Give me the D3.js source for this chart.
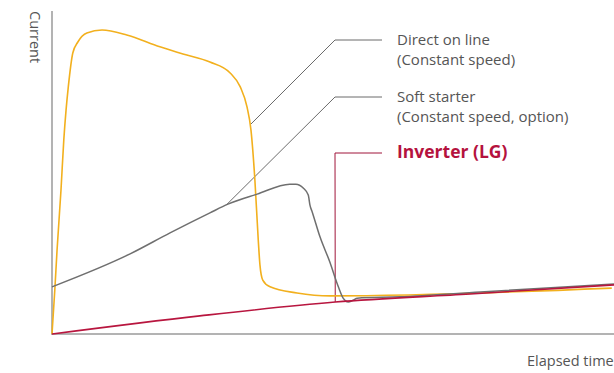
<!DOCTYPE html>
<html>
<head>
<meta charset="utf-8">
<script src="https://cdn.jsdelivr.net/npm/d3@7"></script>
<style>
  body { margin: 0; background: #fff; }
  svg text { font-family: "Open Sans", sans-serif; fill: #555; }
</style>
</head>
<body>
<svg id="chart" width="614" height="373"></svg>
<script>
// Curves (x = elapsed time %, y = current %)
const directX   = [0, 0.5, 0.9, 1.6, 2.1, 2.5, 2.9, 3.7, 4.6, 6.2, 8.9, 13.3, 19.2, 23.3, 28.1, 31.7, 33.5, 34.7, 35.4, 36.1, 36.7, 37.0, 37.5, 38.8, 43.6, 49.5, 99.6];
const directY   = [0, 13.6, 26.0, 44.6, 60.1, 69.3, 76.5, 87.0, 90.4, 93.2, 94.1, 92.6, 88.9, 86.7, 84.2, 80.8, 76.5, 70.3, 63.2, 47.7, 29.1, 21.4, 16.7, 14.6, 12.7, 11.8, 14.2];
const softX     = [0, 13.9, 21.0, 28.1, 31.3, 36.5, 42.3, 43.4, 44.7, 45.6, 45.9, 46.3, 47.7, 49.5, 50.7, 51.8, 52.7, 53.6, 54.3, 61.9, 76.2, 100];
const softY     = [14.6, 24.8, 31.3, 37.5, 40.2, 43.3, 46.4, 46.4, 45.2, 43.0, 39.9, 37.8, 30.0, 22.0, 15.8, 11.1, 9.9, 10.5, 11.1, 11.5, 13.0, 15.5];
const inverterX = [0, 26.3, 50.4, 74.4, 100];
const inverterY = [0, 5.6, 9.9, 12.4, 15.2];

// Labels
const labelLines = [["Direct on line", "(Constant speed)"], ["Soft starter", "(Constant speed, option)"], ["Inverter (LG)"]];
const anchorX = [35.4, 31.1, 50.4];
const anchorY = [65.0, 40.1, 9.9];
const axisTitles = ["Current", "Elapsed time"];

const svg = d3.select("#chart");
const x = d3.scaleLinear().domain([0, 100]).range([52, 614]);
const y = d3.scaleLinear().domain([0, 100]).range([334, 11]);

// Axes (no ticks)
svg.append("line").attr("x1", 52).attr("x2", 52).attr("y1", 11).attr("y2", 335)
  .attr("stroke", "#b3b3b3").attr("stroke-width", 2);
svg.append("line").attr("x1", 51).attr("x2", 614).attr("y1", 334).attr("y2", 334)
  .attr("stroke", "#b3b3b3").attr("stroke-width", 2);

svg.append("text").attr("transform", "translate(30,11) rotate(90)")
  .attr("font-size", 14.5).text(axisTitles[0]);
svg.append("text").attr("x", 527).attr("y", 366)
  .attr("font-size", 14.5).text(axisTitles[1]);

// Leader lines
const elbowX = 335, endX = 382;
const elbowY = [40, 97, 153];
labelLines.forEach((lines, i) => {
  const ax = x(anchorX[i]), ay = y(anchorY[i]);
  const red = i === 2;
  svg.append("polyline")
    .attr("points", [[ax, ay], [elbowX, elbowY[i]], [endX, elbowY[i]]].map(p => p.join(",")).join(" "))
    .attr("fill", "none")
    .attr("stroke", red ? "#a0153a" : "#6b6b6b")
    .attr("stroke-width", 1);
  lines.forEach((t, j) => {
    svg.append("text")
      .attr("x", 397).attr("y", elbowY[i] + 5 + j * 20)
      .attr("font-size", red ? 17.5 : 15)
      .attr("font-weight", red ? "bold" : "normal")
      .style("fill", red ? "#b5123e" : "#555")
      .text(t);
  });
});

// Curves
const line = d3.line().x(d => x(d[0])).y(d => y(d[1])).curve(d3.curveMonotoneX);
const series = [
  { xs: directX, ys: directY, color: "#f2b01e", w: 1.6 },
  { xs: softX, ys: softY, color: "#6f6f6f", w: 1.5 },
  { xs: inverterX, ys: inverterY, color: "#b8163f", w: 1.6 }
];
series.forEach(s => {
  svg.append("path")
    .attr("d", line(s.xs.map((v, i) => [v, s.ys[i]])))
    .attr("fill", "none")
    .attr("stroke", s.color)
    .attr("stroke-width", s.w);
});
</script>
</body>
</html>
